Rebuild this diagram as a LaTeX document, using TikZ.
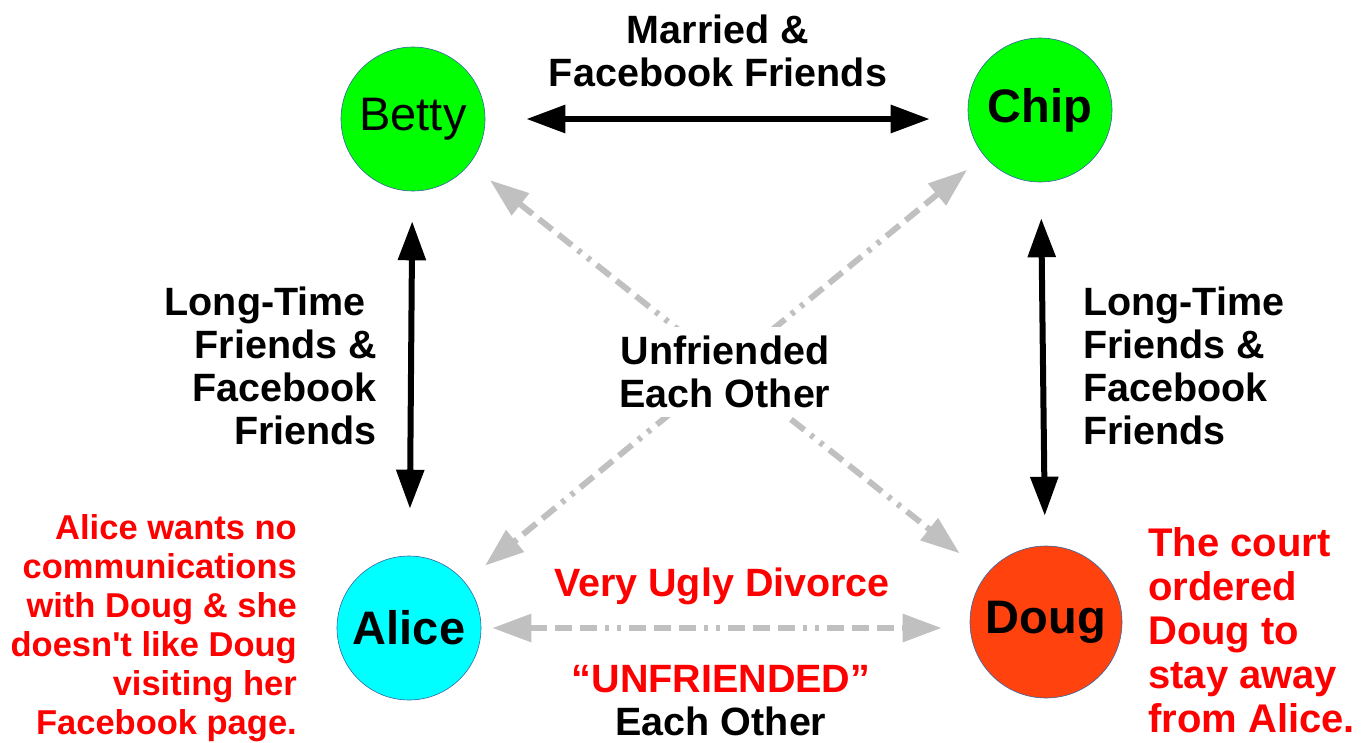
\documentclass[tikz,border=0pt]{standalone}
\usepackage{fontspec}
\setmainfont{Liberation Sans}[Ligatures=TeXOff]
\usepackage{xcolor}
\usetikzlibrary{arrows.meta}

\definecolor{friendgreen}{HTML}{00FF00}
\definecolor{alicecyan}{HTML}{00FFFF}
\definecolor{dougred}{HTML}{FF420E}
\definecolor{rimblue}{HTML}{3465A4}
\definecolor{unfgray}{HTML}{C0C0C0}

\tikzset{
  person/.style={circle, draw=rimblue, line width=0.6pt, inner sep=0pt, minimum size=144pt,
    font=\fontsize{47}{54}\selectfont\bfseries},
  friends/.style={line width=6pt, {Triangle[length=39pt,width=27pt]}-{Triangle[length=39pt,width=27pt]}},
  unfriend/.style={draw=unfgray, line width=6pt,
    dash pattern=on 17pt off 8pt on 17pt off 8pt on 17pt off 8pt on 4pt off 8pt on 4pt off 8pt,
    {Triangle[length=39pt,width=27pt]}-{Triangle[length=39pt,width=27pt]}},
  label/.style={font=\fontsize{39.5}{43}\selectfont\bfseries, inner sep=0pt},
  note/.style={font=\fontsize{34.5}{39}\selectfont\bfseries, text=red, inner sep=0pt}
}

\begin{document}
\begin{tikzpicture}[x=1pt, y=-1pt]
  \useasboundingbox (0,0) rectangle (1366,742);

  \node[person, fill=friendgreen, font=\fontsize{47}{54}\selectfont] (betty) at (413,119) {Betty};
  \node[person, fill=friendgreen] (chip) at (1040,110) {Chip};
  \node[person, fill=alicecyan] (alice) at (409,628) {Alice};
  \node[person, fill=dougred, minimum size=152pt] (doug) at (1046,622) {Doug};

  % friends
  \draw[friends, shorten <=41pt, shorten >=38pt] (betty.east) -- (betty.east -| chip.west);
  \draw[friends, shorten <=30pt, shorten >=47pt] (betty) -- (alice);
  \draw[friends, shorten <=36pt, shorten >=30pt] (chip) -- (doug);

  % unfriended
  \draw[unfriend, shorten <=26pt, shorten >=34pt] (betty) -- (doug);
  \draw[unfriend, shorten <=22pt, shorten >=26pt] (chip) -- (alice);
  \draw[unfriend, shorten <=11pt, shorten >=28pt] (alice.east) -- (alice.east -| doug.west);

  \node[label, align=center] (married) at (718,51) {Married \&\\Facebook Friends};
  \node[label, align=right, anchor=east] (ltleft) at (377,366)
    {Long-Time\hspace*{11pt}\\Friends \&\hspace*{11pt}\\Facebook\hspace*{11pt}\\Friends};
  \node[label, align=left, anchor=west] (ltright) at (1083,366)
    {Long-Time\\Friends \&\\Facebook\\Friends};
  \node[label, align=center, fill=white, inner sep=9pt] (eachother) at (725,372) {Unfriended\\Each Other};
  \node[label, text=red] (divorce) at (722,586) {Very Ugly Divorce};
  \node[label, align=center] (quoted) at (721,701) {{\color{red}“UNFRIENDED”}\\Each Other};

  \node[note, align=right, anchor=east] (alicenote) at (297,628)
    {Alice wants no\\communications\\with Doug \& she\\doesn't like Doug\\visiting her\\Facebook page.};
  \node[note, align=left, anchor=west, font=\fontsize{40}{44}\selectfont\bfseries] (dougnote) at (1148,630)
    {The court\\ordered\\Doug to\\stay away\\from Alice.};
\end{tikzpicture}
\end{document}
